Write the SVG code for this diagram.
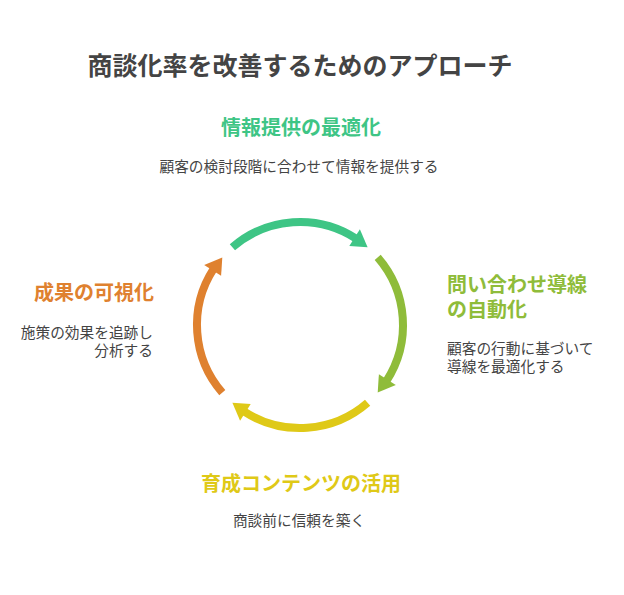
<svg xmlns="http://www.w3.org/2000/svg" width="624" height="595" viewBox="0 0 624 595">
<style>
text{font-family:"Noto Sans CJK JP","Noto Sans",sans-serif}
.title{font-size:25px;font-weight:700;fill:#444444}
.head{font-size:20px;font-weight:700}
.sub{font-size:14.7px;fill:#444444}
.arc{fill:none;stroke-width:8}
.g{fill:#3ec585}.gs{stroke:#3ec585}
.o{fill:#8fbc3a}.os{stroke:#8fbc3a}
.y{fill:#dfc917}.ys{stroke:#dfc917}
.r{fill:#df812f}.rs{stroke:#df812f}
</style>
<rect width="624" height="595" fill="#ffffff"/>
<text class="title" x="300" y="75" text-anchor="middle">商談化率を改善するためのアプローチ</text>
<g id="connectors">
<path class="arc gs" d="M232.4,247.3 A103,103 0 0 1 356.1,238.6"/>
<polygon class="g" points="367.6,247.3 359.9,229.2 349.3,246.1"/>
<path class="arc os" d="M377.7,257.4 A103,103 0 0 1 386.4,381.1"/>
<polygon class="o" points="377.7,392.6 395.8,384.9 378.9,374.3"/>
<path class="arc ys" d="M367.6,402.7 A103,103 0 0 1 243.9,411.4"/>
<polygon class="y" points="232.4,402.7 240.1,420.8 250.7,403.9"/>
<path class="arc rs" d="M222.3,392.6 A103,103 0 0 1 213.6,268.9"/>
<polygon class="r" points="222.3,257.4 204.2,265.1 221.1,275.7"/>
</g>
<g id="node-top">
<text class="head g" x="301" y="135" text-anchor="middle">情報提供の最適化</text>
<text class="sub" x="299" y="172" text-anchor="middle">顧客の検討段階に合わせて情報を提供する</text>
</g>
<g id="node-right">
<text class="head o" x="447" y="292">問い合わせ導線</text>
<text class="head o" x="447" y="317">の自動化</text>
<text class="sub" x="447" y="354">顧客の行動に基づいて</text>
<text class="sub" x="447" y="372">導線を最適化する</text>
</g>
<g id="node-bottom">
<text class="head y" x="301" y="491" text-anchor="middle">育成コンテンツの活用</text>
<text class="sub" x="299" y="526" text-anchor="middle">商談前に信頼を築く</text>
</g>
<g id="node-left">
<text class="head r" x="154" y="300" text-anchor="end">成果の可視化</text>
<text class="sub" x="153" y="338" text-anchor="end">施策の効果を追跡し</text>
<text class="sub" x="153" y="356" text-anchor="end">分析する</text>
</g>
</svg>
